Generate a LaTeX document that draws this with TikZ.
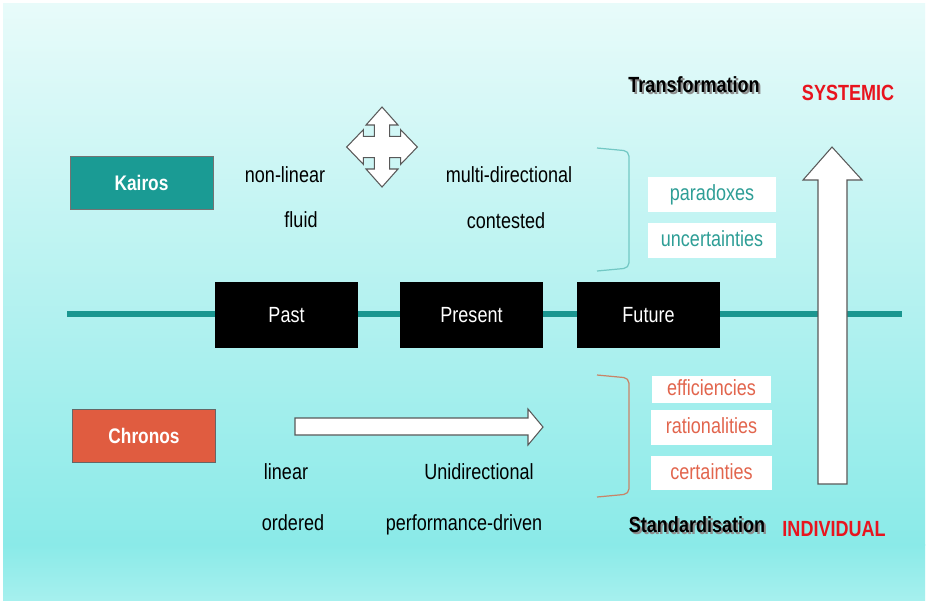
\documentclass[tikz,border=0pt]{standalone}
\usepackage{fontspec}
\setmainfont{Liberation Sans}[FakeStretch=0.82]
\usetikzlibrary{positioning}
\usetikzlibrary{math}

\definecolor{kairosTeal}{HTML}{1A9B94}
\definecolor{chronosRed}{HTML}{E05C40}
\definecolor{tealText}{HTML}{2E9E96}
\definecolor{redText}{HTML}{E2654D}
\definecolor{scaleRed}{HTML}{E8141E}
\definecolor{lineTeal}{HTML}{1A9690}
\definecolor{upBracket}{HTML}{72C8C4}
\definecolor{lowBracket}{HTML}{C88468}
\definecolor{bgTop}{HTML}{E8FBFA}
\definecolor{bgMid}{HTML}{A9EFEE}
\definecolor{bgBot}{HTML}{8AEAE8}
\definecolor{bgLow}{HTML}{A6F0EE}

\tikzset{
  lbl/.style={font=\fontsize{12.5}{15}\selectfont, inner sep=0pt, anchor=base},
  bold/.style={font=\bfseries\fontsize{12.5}{15}\selectfont, inner sep=0pt, anchor=base},
  kindbox/.style={draw=black!55, text=white, minimum width=2.86cm, minimum height=1.06cm,
    font=\bfseries\fontsize{12}{14}\selectfont},
  timebox/.style={fill=black, text=white, minimum width=2.86cm, minimum height=1.32cm,
    font=\fontsize{12.5}{15}\selectfont},
  tagbox/.style={fill=white, inner sep=0pt, text height=9.5pt, text depth=2.5pt,
    font=\fontsize{12.5}{15}\selectfont},
  timeline/.style={lineTeal, line width=3.4pt},
  blockarrow/.style={draw=black!65, fill=white, line width=0.6pt, line join=miter},
  bracket/.style={line width=0.7pt, rounded corners=3pt},
}

\begin{document}
\begin{tikzpicture}[x=0.02cm, y=-0.02cm]
      \tikzmath{
        \s = 7.7;   % half shaft
        \h = 10.7;  % half shaft, across
        \hb = 22;   % head base, vertical
        \hw = 16;   % head half width, vertical
        \vb = 18.7; % head base, horizontal
        \vw = 17.3; % head half width, horizontal
        \tv = 40;   % tip, vertical
        \th = 35.3; % tip, horizontal
      }
      % background
      \useasboundingbox (0,0) rectangle (928,603);
      \fill[white] (0,0) rectangle (928,603);
      \shade[top color=bgTop, middle color=bgMid, bottom color=bgBot] (3,3) rectangle (925,545);
      \shade[top color=bgBot, bottom color=bgLow] (3,544) rectangle (925,600);

      % left boxes
      \node[kindbox, fill=kairosTeal] (kairos) at (141.5,183) {Kairos};
      \node[kindbox, fill=chronosRed, draw=black!60] (chronos) at (144,435.5) {Chronos};

      % time boxes
      \node[timebox] (past) at (286.5,315) {Past};
      \node[timebox] (present) at (471.5,315) {Present};
      \node[timebox] (future) at (648.5,315) {Future};

      % time line
      \coordinate (tlStart) at (67,314);
      \coordinate (tlEnd) at (902,314);
      \draw[timeline] (tlStart) -- (tlStart -| past.west);
      \draw[timeline] (tlStart -| past.east) -- (tlStart -| present.west);
      \draw[timeline] (tlStart -| present.east) -- (tlStart -| future.west);
      \draw[timeline] (tlStart -| future.east) -- (tlEnd);

      % kairos words
      \node[lbl] (nonLinear) at (285,182) {non-linear};
      \node[lbl] (fluid) at (301,227) {fluid};
      \node[lbl] (multiDir) at (509,182) {multi-directional};
      \node[lbl] (contested) at (506,228) {contested};

      % chronos words
      \node[lbl] (linear) at (286,479) {linear};
      \node[lbl] (uniDir) at (479,479) {Unidirectional};
      \node[lbl] (ordered) at (293,530) {ordered};
      \node[lbl] (perfDriven) at (464,530) {performance-driven};

      % four way arrow
      \draw[blockarrow, shift={(382,147)}]
        (0,-\tv) -- (\hw,-\hb) -- (\s,-\hb) -- (\s,-\h) -- (\vb,-\h) -- (\vb,-\vw)
        -- (\th,0) -- (\vb,\vw) -- (\vb,\h) -- (\s,\h) -- (\s,\hb) -- (\hw,\hb)
        -- (0,\tv) -- (-\hw,\hb) -- (-\s,\hb) -- (-\s,\h) -- (-\vb,\h) -- (-\vb,\vw)
        -- (-\th,0) -- (-\vb,-\vw) -- (-\vb,-\h) -- (-\s,-\h) -- (-\s,-\hb) -- (-\hw,-\hb)
        -- cycle;

      % right arrow
      \draw[blockarrow] (295,418) -- (528,418) -- (528,409) -- (543,427)
        -- (528,445) -- (528,435) -- (295,435) -- cycle;

      % up arrow
      \draw[blockarrow] (818,484) -- (818,180) -- (803,180) -- (832,147)
        -- (862,180) -- (847,180) -- (847,484) -- cycle;

      % brackets
      \draw[bracket, upBracket] (597,148) -- (629,151) -- (629,268) -- (597,271);
      \draw[bracket, lowBracket] (597,375) -- (629,378) -- (629,494) -- (597,497);

      % tag boxes
      \node[tagbox, text=tealText, minimum width=2.56cm, minimum height=0.7cm] (paradoxes) at (712,194.5) {paradoxes};
      \node[tagbox, text=tealText, minimum width=2.56cm, minimum height=0.7cm, below=0.2cm of paradoxes] (uncertainties) {uncertainties};
      \node[tagbox, text=redText, minimum width=2.38cm, minimum height=0.54cm] (efficiencies) at (711.5,389.5) {efficiencies};
      \node[tagbox, text=redText, minimum width=2.42cm, minimum height=0.7cm, below=0.12cm of efficiencies] (rationalities) {rationalities};
      \node[tagbox, text=redText, minimum width=2.42cm, minimum height=0.68cm, below=0.22cm of rationalities] (certainties) {certainties};

      % scale labels
      \node[bold, text=black!45] (transShadow) at (696,94) {Transformation};
      \node[bold] (transformation) at (694,92) {Transformation};
      \node[bold, text=black!45] (standShadow) at (699,534) {Standardisation};
      \node[bold] (standardisation) at (697,532) {Standardisation};
      \node[bold, text=scaleRed] (systemic) at (848,100) {SYSTEMIC};
      \node[bold, text=scaleRed] (individual) at (834,536) {INDIVIDUAL};

    \end{tikzpicture}
\end{document}
